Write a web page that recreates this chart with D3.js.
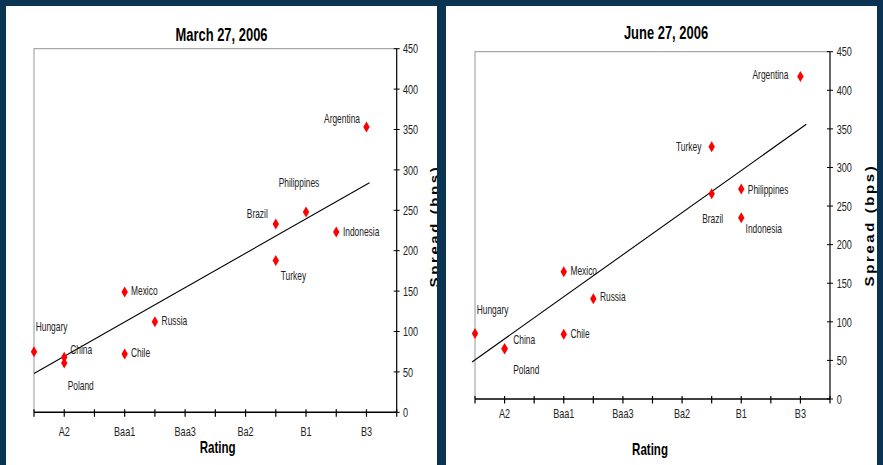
<!DOCTYPE html>
<html><head><meta charset="utf-8">
<script src="https://cdn.jsdelivr.net/npm/d3@7"></script>
<style>html,body{margin:0;padding:0;background:#0b3352;}svg{display:block;}</style>
</head><body>
<svg id="chart" width="883" height="465"></svg>
<script>
// ---------- data ----------
const countries   = ["Hungary","China","Poland","Mexico","Chile","Russia","Turkey","Brazil","Philippines","Indonesia","Argentina"];
const marchRating = [0, 1, 1, 3, 3, 4, 8, 8, 9, 10, 11];
const marchSpread = [75, 68, 61, 149, 72, 112, 188, 233, 248, 223, 353];
const juneRating  = [0, 1, 1, 3, 3, 4, 8, 8, 9, 9, 11];
const juneSpread  = [85, 65, 65, 165, 84, 130, 327, 266, 272, 235, 418];
const marchTrendX = [0, 11.1];
const marchTrendY = [48, 284];
const juneTrendX  = [-0.1, 11.2];
const juneTrendY  = [48, 356];
const ratingTicks  = [0,1,2,3,4,5,6,7,8,9,10,11,12];
const ratingLabels = ["","A2","","Baa1","","Baa3","","Ba2","","B1","","B3",""];
const spreadTicks  = [0,50,100,150,200,250,300,350,400,450];
const titles = ["March 27, 2006", "June 27, 2006"];

// ---------- layout / style ----------
const SQ = 0.7; // horizontal squeeze of the narrow font
const FONT = "'Liberation Sans', Arial, sans-serif";
const panels = [
  { px0:6, px1:437, left:34, right:396.7, top:48.7, bottom:412.3,
    titleX:221.5, titleY:41, xLabY:436, ratingX:217.7, ratingY:453.3,
    yLabX:403, yTitleX:438.5, yTitleY:226,
    rating:marchRating, spread:marchSpread, tx:marchTrendX, ty:marchTrendY,
    place:{Hungary:["start",1.7,-25],China:["start",6,-7.7],Poland:["start",3.4,22.3],
      Mexico:["start",6.3,-1],Chile:["start",6.3,-1.7],Russia:["start",6.7,-1],
      Turkey:["start",5,15],Brazil:["end",-8,-10.7],Philippines:["middle",-7,-29],
      Indonesia:["start",6.7,0],Argentina:["end",-6.5,-8.7]} },
  { px0:446, px1:877, left:475, right:830, top:51.7, bottom:399,
    titleX:666, titleY:39, xLabY:418.3, ratingX:650, ratingY:455,
    yLabX:836.7, yTitleX:873.5, yTitleY:225,
    rating:juneRating, spread:juneSpread, tx:juneTrendX, ty:juneTrendY,
    place:{Hungary:["start",1.7,-23.7],China:["start",8.6,-8.7],Poland:["start",8.6,21.3],
      Mexico:["start",6.7,-1],Chile:["start",6.7,-0.6],Russia:["start",6.6,-1.7],
      Turkey:["end",-10.3,0],Brazil:["middle",1,25.3],Philippines:["start",6.6,1],
      Indonesia:["start",4.3,11],Argentina:["end",-12,-1.3]} }
];

const svg = d3.select("#chart");
svg.append("rect").attr("width",883).attr("height",465).attr("fill","#0b3352");

function sqText(g, x, y, txt, size, weight, anchor, fill, dy) {
  return g.append("text")
    .attr("transform", `translate(${x},${y}) scale(${SQ},1)`)
    .attr("font-family", FONT).attr("font-size", size).attr("font-weight", weight)
    .attr("text-anchor", anchor).attr("fill", fill).attr("dy", dy || 0)
    .text(txt);
}

panels.forEach((p, i) => {
  const clipId = "clip" + i;
  svg.append("clipPath").attr("id", clipId).append("rect")
    .attr("x", p.px0).attr("y", 6).attr("width", p.px1 - p.px0).attr("height", 470);
  const g = svg.append("g").attr("clip-path", `url(#${clipId})`);
  g.append("rect").attr("x", p.px0).attr("y", 6).attr("width", p.px1 - p.px0).attr("height", 470).attr("fill", "#fff");

  const x = d3.scaleLinear().domain([0, 12]).range([p.left, p.right]);
  const y = d3.scaleLinear().domain([0, 450]).range([p.bottom, p.top]);

  // plot-area frame (top & left, grey)
  g.append("path").attr("d", `M${p.left},${p.bottom}V${p.top}H${p.right}`)
    .attr("fill","none").attr("stroke","#a8a8a8").attr("stroke-width",1.2);

  // right axis
  g.append("line").attr("x1",p.right).attr("x2",p.right).attr("y1",p.top).attr("y2",p.bottom)
    .attr("stroke","#000").attr("stroke-width",1.2);
  spreadTicks.forEach(t => {
    g.append("line").attr("x1",p.right-3).attr("x2",p.right+3).attr("y1",y(t)).attr("y2",y(t))
      .attr("stroke","#000").attr("stroke-width",1);
    sqText(g, p.yLabX, y(t), String(t), 13, "normal", "start", "#222", "0.36em");
  });

  // bottom axis
  g.append("line").attr("x1",p.left).attr("x2",p.right).attr("y1",p.bottom).attr("y2",p.bottom)
    .attr("stroke","#000").attr("stroke-width",1.4);
  ratingTicks.forEach((t, k) => {
    g.append("line").attr("x1",x(t)).attr("x2",x(t)).attr("y1",p.bottom-3).attr("y2",p.bottom+4.5)
      .attr("stroke","#000").attr("stroke-width",1.2);
    if (ratingLabels[k]) sqText(g, x(t), p.xLabY, ratingLabels[k], 13, "normal", "middle", "#222");
  });

  // titles
  sqText(g, p.titleX, p.titleY, titles[i], 18.5, "bold", "middle", "#000");
  sqText(g, p.ratingX, p.ratingY, "Rating", 16.5, "bold", "middle", "#000");
  g.append("text")
    .attr("transform", `translate(${p.yTitleX},${p.yTitleY}) scale(0.9,1) rotate(-90)`)
    .attr("font-family", FONT).attr("font-size", 15).attr("font-weight","bold")
    .attr("letter-spacing", 2.6).attr("text-anchor","middle").attr("fill","#000")
    .text("Spread (bps)");

  // trend line
  g.append("path")
    .attr("d", d3.line().x(d => x(d[0])).y(d => y(d[1]))(d3.zip(p.tx, p.ty)))
    .attr("fill","none").attr("stroke","#000").attr("stroke-width",1.1);

  // points
  const diamond = "M0,-5.5L3.2,0L0,5.5L-3.2,0Z";
  countries.forEach((c, k) => {
    const cx = x(p.rating[k]), cy = y(p.spread[k]);
    g.append("path").attr("d", diamond).attr("transform", `translate(${cx},${cy})`).attr("fill", "#ff0000");
    const pl = p.place[c];
    sqText(g, cx + pl[1], cy + pl[2], c, 12, "normal", pl[0], "#222", "0.35em");
  });
});
</script>
</body></html>
